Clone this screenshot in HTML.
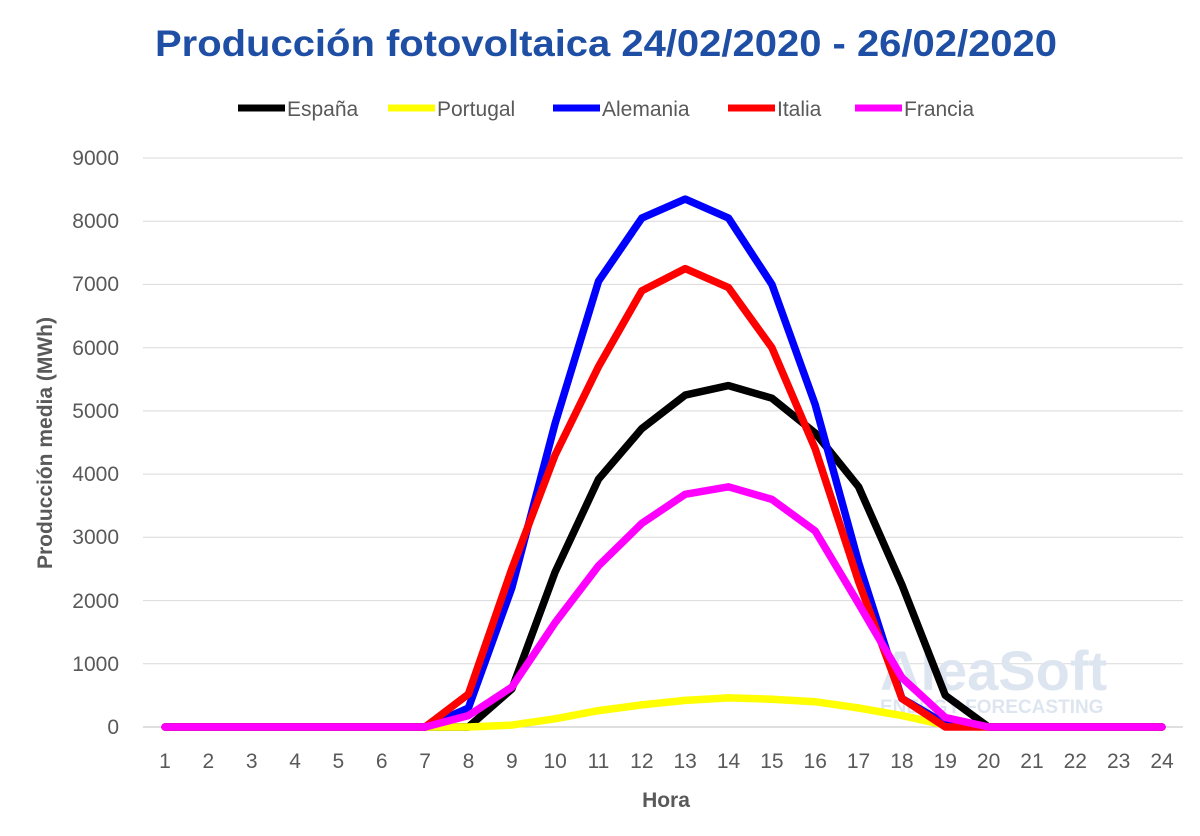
<!DOCTYPE html>
<html><head><meta charset="utf-8"><style>body{margin:0;background:#fff}</style></head><body>
<svg width="1200" height="831" xmlns="http://www.w3.org/2000/svg" font-family="Liberation Sans, sans-serif">
<rect width="1200" height="831" fill="#fff"/>
<text x="155" y="56" font-size="37" font-weight="bold" fill="#1f4ea5" textLength="902" lengthAdjust="spacingAndGlyphs">Producción fotovoltaica 24/02/2020 - 26/02/2020</text>
<g font-size="21" fill="#595959">
<line x1="238" y1="108" x2="285" y2="108" stroke="#000" stroke-width="7"/><text x="287" y="116">España</text>
<line x1="388" y1="108" x2="435" y2="108" stroke="#ffff00" stroke-width="7"/><text x="437" y="116">Portugal</text>
<line x1="553" y1="108" x2="600" y2="108" stroke="#0000ff" stroke-width="7"/><text x="602" y="116">Alemania</text>
<line x1="728" y1="108" x2="775" y2="108" stroke="#ff0000" stroke-width="7"/><text x="777" y="116">Italia</text>
<line x1="855" y1="108" x2="902" y2="108" stroke="#ff00ff" stroke-width="7"/><text x="904" y="116">Francia</text>
</g>
<g stroke="#d9d9d9" stroke-width="1">
<line x1="143" y1="158" x2="1183" y2="158"/><line x1="143" y1="221.2" x2="1183" y2="221.2"/><line x1="143" y1="284.4" x2="1183" y2="284.4"/><line x1="143" y1="347.7" x2="1183" y2="347.7"/><line x1="143" y1="410.9" x2="1183" y2="410.9"/><line x1="143" y1="474.1" x2="1183" y2="474.1"/><line x1="143" y1="537.3" x2="1183" y2="537.3"/><line x1="143" y1="600.6" x2="1183" y2="600.6"/><line x1="143" y1="663.8" x2="1183" y2="663.8"/>
</g>
<line x1="143" y1="727" x2="1183" y2="727" stroke="#bfbfbf"/>
<g font-size="21" fill="#595959" text-anchor="end">
<text x="119" y="165">9000</text><text x="119" y="228">8000</text><text x="119" y="291">7000</text><text x="119" y="355">6000</text><text x="119" y="418">5000</text><text x="119" y="481">4000</text><text x="119" y="544">3000</text><text x="119" y="608">2000</text><text x="119" y="671">1000</text><text x="119" y="734">0</text>
</g>
<g font-size="21" fill="#595959" text-anchor="middle" id="xl"></g>
<text x="666" y="807" text-anchor="middle" font-size="21" font-weight="bold" fill="#595959">Hora</text>
<text transform="translate(52,443) rotate(-90)" text-anchor="middle" font-size="21" font-weight="bold" fill="#595959">Producción media (MWh)</text>
<text x="880" y="690" font-size="56" font-weight="bold" fill="#dde6f0">AleaSoft</text>
<text x="880" y="713" font-size="19" font-weight="bold" fill="#dde6f0">ENERGY FORECASTING</text>
<g id="lines" fill="none" stroke-width="7.5" stroke-linejoin="round" stroke-linecap="round"></g>
<script>
var x0=165,dx=(1162-165)/23,y0=727,k=569/9000;
var xl=document.getElementById('xl');
for(var i=1;i<=24;i++){var t=document.createElementNS('http://www.w3.org/2000/svg','text');t.setAttribute('x',x0+(i-1)*dx);t.setAttribute('y',768);t.textContent=i;xl.appendChild(t);}
var z=[0,0,0,0,0,0,0];
var S=[
['#000',z.concat([0,600,2450,3920,4720,5250,5400,5200,4650,3800,2250,500,0,0,0,0,0])],
['#ffff00',z.concat([0,30,130,260,350,420,460,440,400,300,180,30,0,0,0,0,0])],
['#0000ff',z.concat([300,2200,4800,7050,8050,8350,8050,7000,5100,2600,450,50,0,0,0,0,0])],
['#ff0000',z.concat([520,2500,4300,5700,6900,7250,6950,6000,4400,2300,450,0,0,0,0,0,0])],
['#ff00ff',z.concat([180,630,1650,2550,3220,3680,3800,3600,3100,1950,780,150,0,0,0,0,0])]];
var g=document.getElementById('lines');
S.forEach(function(s){var p=s[1].map(function(v,i){return (x0+i*dx).toFixed(1)+','+(y0-v*k).toFixed(1)}).join(' ');
var e=document.createElementNS('http://www.w3.org/2000/svg','polyline');e.setAttribute('points',p);e.setAttribute('stroke',s[0]);g.appendChild(e);});
</script>
</svg>
</body></html>
